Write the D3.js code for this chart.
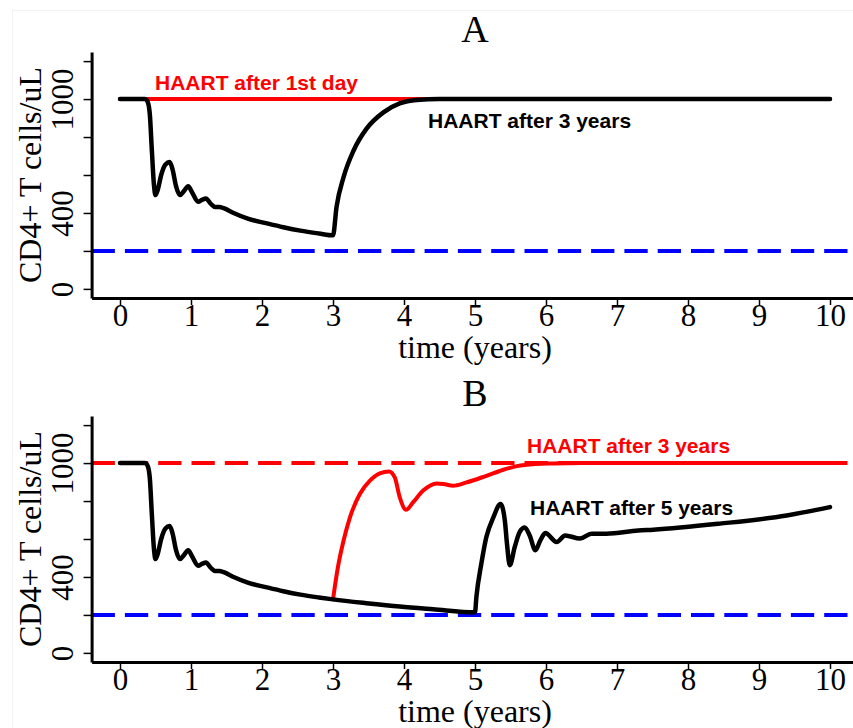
<!DOCTYPE html>
<html>
<head>
<meta charset="utf-8">
<script src="https://cdn.jsdelivr.net/npm/d3@7"></script>
<style>
  body { margin: 0; background: #fff; }
  text { fill: #000; }
</style>
</head>
<body>
<div id="graph"></div>
<script>
// shared course before any treatment (years, cells/uL)
const timeEarly = [0, 0.35, 0.39, 0.42, 0.45, 0.48, 0.50, 0.53, 0.58, 0.64, 0.70, 0.74, 0.79, 0.845, 0.90, 0.96, 1.02, 1.10, 1.16, 1.21, 1.28, 1.34, 1.40, 1.46, 1.60, 1.80, 2.07, 2.30, 2.54, 2.80, 3.0];
const cd4Early  = [1000, 1000, 985, 920, 720, 540, 494, 520, 600, 655, 668, 630, 540, 494, 515, 541, 505, 459, 470, 476, 448, 432, 432, 425, 400, 370, 345, 325, 307, 292, 282];

// panel A: HAART after 3 years (recovery part)
const timeA3 = [3.05, 3.15, 3.29, 3.47, 3.71, 3.94, 4.18, 4.5, 10];
const cd4A3  = [432, 590, 729, 843, 930, 977, 995, 1000, 1000];

// panel A: HAART after 1st day
const timeDay1 = [0, 10];
const cd4Day1  = [1000, 1000];

// panel B: untreated decline from 3 to 5 years
const timeDecline = [3.47, 3.94, 4.41, 5.0];
const cd4Decline  = [262, 244, 230, 214];

// panel B: HAART after 5 years (recovery part)
const timeB5 = [5.02, 5.09, 5.16, 5.26, 5.36, 5.42, 5.45, 5.49, 5.56, 5.63, 5.70, 5.77, 5.85, 5.92, 5.99, 6.15, 6.27, 6.48, 6.64, 6.85, 7.30, 7.51, 8.45, 9.39, 10];
const cd4B5  = [296, 471, 610, 715, 785, 698, 576, 462, 558, 637, 660, 619, 541, 593, 631, 584, 619, 602, 628, 628, 645, 649, 681, 724, 768];

// panel B: HAART after 3 years
const timeB3 = [3.0, 3.07, 3.15, 3.24, 3.38, 3.52, 3.66, 3.79, 3.87, 3.94, 4.03, 4.13, 4.27, 4.46, 4.58, 4.69, 4.88, 5.16, 5.40, 5.59, 5.85, 6.10, 6.5, 10];
const cd4B3  = [282, 453, 593, 715, 838, 907, 946, 956, 925, 820, 754, 794, 855, 893, 888, 881, 898, 933, 965, 984, 995, 998, 1000, 1000];

const lowLine = 200;
const highLine = 1000;

const xTicks = d3.range(0, 11);
const yTicks = [0, 200, 400, 600, 800, 1000, 1200];
const yLabels = [0, 400, 1000];

function zip(ts, vs) {
    return ts.map((t, i) => ({t: t, v: vs[i]}));
}

const width = 853;
const height = 728;

const svg = d3.select("#graph")
    .append("svg")
    .attr("width", width)
    .attr("height", height);

svg.append("rect")
    .attr("x", 12.5).attr("y", 10.5)
    .attr("width", 850).attr("height", 730)
    .attr("fill", "none")
    .attr("stroke", "#f2f2f2");

const x = d3.scaleLinear()
    .domain([-0.4, 10.4])
    .range([91.6, 858.4]);

function renderPanel(offsetY, title, dashes, curves, labels) {
    const g = svg.append("g").attr("transform", `translate(0, ${offsetY})`);
    const top = 52, bottom = 298;

    const y = d3.scaleLinear()
        .domain([-48, 1248])
        .range([bottom, top]);

    const line = d3.line()
        .x(d => x(d.t))
        .y(d => y(d.v))
        .curve(d3.curveMonotoneX);

    dashes.forEach(d => {
        g.append("line")
            .attr("x1", x.range()[0]).attr("x2", x.range()[1])
            .attr("y1", y(d.v)).attr("y2", y(d.v))
            .attr("stroke", d.color)
            .attr("stroke-width", 4)
            .attr("stroke-dasharray", "23.3,10");
    });

    curves.forEach(c => {
        g.append("path")
            .datum(c.data)
            .attr("d", line)
            .attr("fill", "none")
            .attr("stroke", c.color)
            .attr("stroke-width", c.w)
            .attr("stroke-linecap", "round")
            .attr("stroke-linejoin", "round");
    });

    // x axis
    const xa = g.append("g")
        .attr("transform", `translate(0, ${bottom})`)
        .call(d3.axisBottom(x).tickValues(xTicks).tickSize(7).tickSizeOuter(0));
    xa.select(".domain").attr("stroke-width", 3);
    xa.selectAll(".tick line").attr("stroke-width", 1.5);
    xa.selectAll(".tick text")
        .attr("y", 28).attr("dy", 0)
        .attr("font-family", "'Liberation Serif', serif")
        .attr("font-size", 31);

    // y axis
    const ya = g.append("g")
        .attr("transform", `translate(${x.range()[0]}, 0)`)
        .call(d3.axisLeft(y).tickValues(yTicks).tickSize(8).tickSizeOuter(0)
            .tickFormat(d => yLabels.includes(d) ? d : ""));
    ya.select(".domain").attr("stroke-width", 3);
    ya.selectAll(".tick line").attr("stroke-width", 1.5);
    ya.selectAll(".tick text")
        .attr("transform", "rotate(-90)")
        .attr("x", 0).attr("y", -19).attr("dy", 0)
        .attr("text-anchor", "middle")
        .attr("font-family", "'Liberation Serif', serif")
        .attr("font-size", 31);

    g.append("text")
        .attr("x", 475).attr("y", 358)
        .attr("text-anchor", "middle")
        .attr("font-family", "'Liberation Serif', serif")
        .attr("font-size", 32)
        .text("time (years)");

    g.append("text")
        .attr("transform", "translate(41, 175) rotate(-90)")
        .attr("text-anchor", "middle")
        .attr("font-family", "'Liberation Serif', serif")
        .attr("font-size", 32)
        .text("CD4+ T cells/uL");

    g.append("text")
        .attr("x", 475).attr("y", 42)
        .attr("text-anchor", "middle")
        .attr("font-family", "'Liberation Serif', serif")
        .attr("font-size", 38)
        .text(title);

    labels.forEach(l => {
        g.append("text")
            .attr("x", l.x).attr("y", l.y)
            .attr("font-family", "'Liberation Sans', Arial, sans-serif")
            .attr("font-weight", "bold")
            .attr("font-size", 21)
            .style("fill", l.color)
            .text(l.text);
    });
}

renderPanel(0, "A",
    [{v: lowLine, color: "#0000ff"}],
    [
        {data: zip(timeDay1, cd4Day1), color: "#ff0000", w: 4},
        {data: zip(timeEarly.concat(timeA3), cd4Early.concat(cd4A3)), color: "#000", w: 4.5}
    ],
    [
        {text: "HAART after 1st day", x: 155, y: 90, color: "#ff0000"},
        {text: "HAART after 3 years", x: 428, y: 128, color: "#000"}
    ]);

renderPanel(364, "B",
    [{v: lowLine, color: "#0000ff"}, {v: highLine, color: "#ff0000"}],
    [
        {data: zip(timeB3, cd4B3), color: "#ff0000", w: 4},
        {data: zip(timeEarly.concat(timeDecline, timeB5), cd4Early.concat(cd4Decline, cd4B5)), color: "#000", w: 4.5}
    ],
    [
        {text: "HAART after 3 years", x: 527, y: 89, color: "#ff0000"},
        {text: "HAART after 5 years", x: 530, y: 151, color: "#000"}
    ]);
</script>
</body>
</html>
